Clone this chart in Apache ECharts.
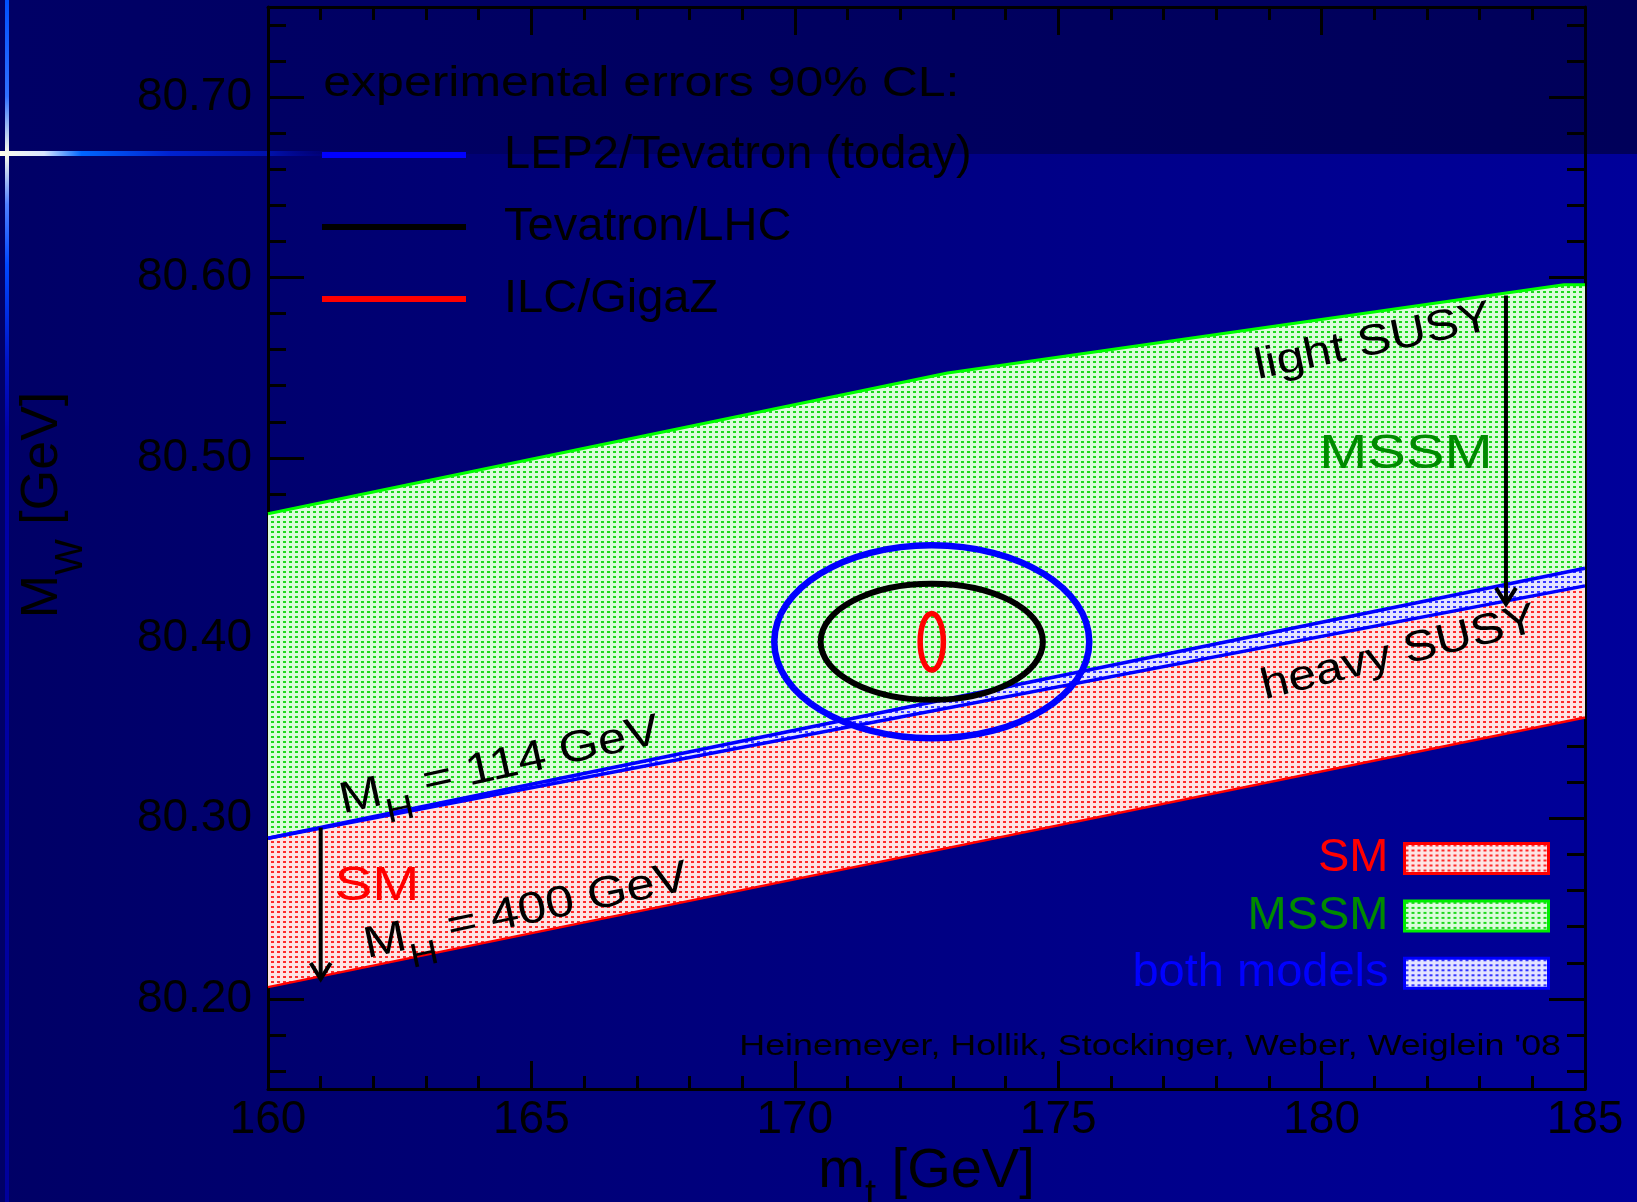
<!DOCTYPE html>
<html>
<head>
<meta charset="utf-8">
<title>M_W versus m_t: SM and MSSM predictions</title>
<script src="https://cdn.jsdelivr.net/npm/echarts@6.0.0/dist/echarts.min.js"></script>
<style>
  html, body { margin: 0; padding: 0; background: #000066; }
  #chart { width: 1637px; height: 1202px; }
</style>
</head>
<body>
<div id="chart"></div>
<script>
// ---------- axes ----------
const mtMin = 160, mtMax = 185, mtStep = 5;          // top-quark mass [GeV]
const mwMin = 80.15, mwMax = 80.75;                  // W-boson mass [GeV]
const mtTickLabels = ['160', '165', '170', '175', '180', '185'];
const mwTickLabels = ['80.20', '80.30', '80.40', '80.50', '80.60', '80.70'];

// ---------- theory bands ----------
// MSSM, upper edge (light SUSY)
const mssmUpperMt = [160, 172.9, 184.6, 185];
const mssmUpperMw = [80.469, 80.547, 80.596, 80.596];
// MSSM, lower edge (heavy SUSY)
const mssmLowerMt = [160, 185];
const mssmLowerMw = [80.289, 80.429];
// SM, upper edge (M_H = 114 GeV)
const smUpperMt = [160, 185];
const smUpperMw = [80.289, 80.4388];
// SM, lower edge (M_H = 400 GeV)
const smLowerMt = [160, 185];
const smLowerMw = [80.2065, 80.356];

// ---------- experimental 90% CL ellipses ----------
const contourNames = ['LEP2/Tevatron (today)', 'Tevatron/LHC', 'ILC/GigaZ'];
const contourMt  = [172.6, 172.6, 172.6];
const contourMw  = [80.398, 80.398, 80.398];
const contourDmt = [2.99, 2.11, 0.22];
const contourDmw = [0.0535, 0.0322, 0.0157];

// ---------- arrows (m_t, M_W from, M_W to) ----------
const arrowMt   = [161.0, 183.5];
const arrowFrom = [80.295, 80.590];
const arrowTo   = [80.211, 80.419];

// ---------- styling ----------
const FONT = '"Liberation Sans", Arial, Helvetica, sans-serif';
const contourColors = ['#0000ff', '#000000', '#ff0000'];
const contourWidths = [6.5, 6, 5.5];

function dotFill(bg, dot) {
  const c = document.createElement('canvas');
  c.width = 6; c.height = 5;
  const g = c.getContext('2d');
  g.fillStyle = bg; g.fillRect(0, 0, 6, 5);
  g.fillStyle = dot; g.fillRect(1, 1, 3, 2);
  return { image: c, repeat: 'repeat' };
}
const fillSM   = dotFill('#fde4e4', '#ff2a2a');
const fillMSSM = dotFill('#dcfcdc', '#1ed81e');
const fillBoth = dotFill('#e4e4ff', '#3535ff');

const zip = (xs, ys) => xs.map((x, i) => [x, ys[i]]);
function bandPolygon(upMt, upMw, loMt, loMw) {
  return zip(upMt, upMw).concat(zip(loMt, loMw).reverse());
}
const mssmPoly = bandPolygon(mssmUpperMt, mssmUpperMw, mssmLowerMt, mssmLowerMw);
const smPoly   = bandPolygon(smUpperMt, smUpperMw, smLowerMt, smLowerMw);
const bothPoly = bandPolygon(smUpperMt, smUpperMw, mssmLowerMt, mssmLowerMw);

function bandSeries(name, poly, fill, z) {
  return {
    type: 'custom', name, z, silent: true,
    itemStyle: { color: fill },
    data: [poly[0]],
    renderItem: (params, api) => ({
      type: 'polygon',
      shape: { points: poly.map(p => api.coord(p)) },
      style: { fill: fill, stroke: 'none' }
    })
  };
}
function edgeSeries(mt, mw, color, width, z) {
  return {
    type: 'line', data: zip(mt, mw), symbol: 'none', silent: true, z,
    lineStyle: { color, width }
  };
}

const subRich = (size, subSize, lh, pad) => ({
  m: { fontFamily: FONT, fontSize: size, lineHeight: lh, verticalAlign: 'middle' },
  s: { fontFamily: FONT, fontSize: subSize, lineHeight: lh, verticalAlign: 'middle', padding: [pad, 0, 0, 0] }
});

// text annotations, anchored in data coordinates
const notes = [
  { text: 'experimental errors 90% CL:', at: [161.05, 80.7068], size: 42, align: 'left', stretch: 1.19 },
  { text: 'light SUSY', at: [180.98, 80.5640], size: 43, angle: 12 },
  { text: 'MSSM', at: [181.6, 80.5020], size: 49, color: '#008a00', stretch: 1.18 },
  { text: 'heavy SUSY', at: [181.47, 80.3915], size: 43, angle: 14 },
  { text: 'SM', at: [162.07, 80.2620], size: 48, color: '#ff0000', stretch: 1.18 },
  { text: '{m|M}{s|H}{m| = 114 GeV}', at: [164.4, 80.329], size: 44, angle: 12.5, rich: subRich(44, 34, 50, 44) },
  { text: '{m|M}{s|H}{m| = 400 GeV}', at: [164.9, 80.2483], size: 44, angle: 12, rich: subRich(44, 34, 50, 44) },
  { text: "Heinemeyer, Hollik, Stockinger, Weber, Weiglein '08", at: [184.545, 80.1735], size: 29, align: 'right', stretch: 1.235 }
];

const tickStyle = { color: '#000', width: 3 };
const axisLineStyle = { show: true, onZero: false, lineStyle: { color: '#000', width: 3 } };

function xAxisDef(pos) {
  return {
    type: 'value', min: mtMin, max: mtMax, interval: mtStep, position: pos,
    axisLine: axisLineStyle, splitLine: { show: false },
    axisTick: { show: true, inside: true, length: 28, lineStyle: tickStyle },
    minorTick: { show: true, splitNumber: 5, length: 13, lineStyle: tickStyle },
    axisLabel: pos === 'bottom' ? {
      show: true, color: '#000', fontFamily: FONT, fontSize: 46, margin: 8,
      formatter: v => { const s = String(Math.round(v)); return mtTickLabels.includes(s) ? s : ''; }
    } : { show: false }
  };
}
function yAxisDef(pos) {
  return {
    type: 'value', min: mwMin, max: mwMax, splitNumber: 6, position: pos,
    axisLine: axisLineStyle, splitLine: { show: false },
    axisTick: { show: true, inside: true, length: 36, lineStyle: tickStyle },
    minorTick: { show: true, splitNumber: 5, length: 18, lineStyle: tickStyle },
    axisLabel: pos === 'left' ? {
      show: true, color: '#000', fontFamily: FONT, fontSize: 46, margin: 16, padding: [6, 0, 0, 0],
      formatter: v => { const s = v.toFixed(2); return mwTickLabels.includes(s) ? s : ''; }
    } : { show: false }
  };
}

const xMain = xAxisDef('bottom');
Object.assign(xMain, {
  name: '{m|m}{s|t}{m| [GeV]}', nameLocation: 'middle', nameGap: 53, nameMoveOverlap: false,
  nameTextStyle: { color: '#000', rich: subRich(56, 40, 60, 48) }
});
const yMain = yAxisDef('left');
Object.assign(yMain, {
  name: '{m|M}{s|W}{m| [GeV]}', nameLocation: 'middle', nameRotate: 90, nameGap: 194, nameMoveOverlap: false,
  nameTextStyle: { color: '#000', padding: [0, 0, 0, 86], rich: subRich(52, 38, 62, 58) }
});

const option = {
  animation: false,
  backgroundColor: {
    type: 'linear', x: 0, y: 0, x2: 1, y2: 0,
    colorStops: [{ offset: 0, color: '#000066' }, { offset: 1, color: '#00009a' }]
  },
  graphic: [
    { type: 'rect', z: -10, silent: true, shape: { x: 0, y: 0, width: 1637, height: 154 },
      style: { fill: { type: 'linear', x: 0, y: 0, x2: 1, y2: 0,
        colorStops: [{ offset: 0, color: '#000066' }, { offset: 1, color: '#00005a' }] } } },
    { type: 'rect', z: -9, silent: true, shape: { x: 5, y: 0, width: 4, height: 1202 },
      style: { fill: { type: 'linear', x: 0, y: 0, x2: 0, y2: 1, colorStops: [
        { offset: 0, color: '#0050ff' }, { offset: 0.08, color: '#3070ff' },
        { offset: 0.128, color: '#ffffe8' }, { offset: 0.17, color: '#5080ff' },
        { offset: 0.22, color: '#0048ff' }, { offset: 0.3, color: '#0014c8' },
        { offset: 0.36, color: '#0000a8' }, { offset: 1, color: '#00009c' }] } } },
    { type: 'rect', z: -9, silent: true, shape: { x: 0, y: 151, width: 340, height: 5 },
      style: { fill: { type: 'linear', x: 0, y: 0, x2: 1, y2: 0, colorStops: [
        { offset: 0, color: '#ffffe8' }, { offset: 0.13, color: '#d8e4ff' },
        { offset: 0.24, color: '#0066ff' }, { offset: 0.5, color: '#0022d0' },
        { offset: 0.8, color: '#0010a8' }, { offset: 1, color: 'rgba(0,0,150,0)' }] } } }
  ],
  grid: { left: 268, right: 52, top: 7, bottom: 113, containLabel: false, outerBoundsMode: 'none' },
  xAxis: [xMain, xAxisDef('top')],
  yAxis: [yMain, yAxisDef('right')],
  legend: [
    {
      data: contourNames.map((n, i) => ({ name: n, icon: 'rect', itemStyle: { color: contourColors[i], borderWidth: 0 } })),
      orient: 'vertical', left: 322, top: 130, padding: 0,
      itemWidth: 144, itemHeight: 6, itemGap: 22, selectedMode: false,
      textStyle: { fontFamily: FONT, fontSize: 47, color: '#000', lineHeight: 50, padding: [0, 0, 0, 33] }
    },
    {
      data: [
        { name: 'SM', icon: 'rect', itemStyle: { color: fillSM, borderColor: '#ff0000', borderWidth: 3 }, textStyle: { color: '#ff0000' } },
        { name: 'MSSM', icon: 'rect', itemStyle: { color: fillMSSM, borderColor: '#00ee00', borderWidth: 3 }, textStyle: { color: '#008a00' } },
        { name: 'both models', icon: 'rect', itemStyle: { color: fillBoth, borderColor: '#0000ff', borderWidth: 3 }, textStyle: { color: '#0000ff' } }
      ],
      orient: 'vertical', align: 'right', right: 87, top: 835, padding: 0,
      itemWidth: 144, itemHeight: 30, itemGap: 10.4, selectedMode: false,
      textStyle: { fontFamily: FONT, fontSize: 47, lineHeight: 30, padding: [0, 11, 0, 0] }
    }
  ],
  series: [
    bandSeries('MSSM', mssmPoly, fillMSSM, 1),
    bandSeries('SM', smPoly, fillSM, 1),
    bandSeries('both models', bothPoly, fillBoth, 1),
    edgeSeries(mssmUpperMt, mssmUpperMw, '#00ff00', 3, 3),
    edgeSeries(smLowerMt, smLowerMw, '#ff0000', 2.5, 3),
    edgeSeries(smUpperMt, smUpperMw, '#0000ff', 3.5, 3),
    edgeSeries(mssmLowerMt, mssmLowerMw, '#0000ff', 3.5, 3),
    ...contourNames.map((name, i) => ({
      type: 'custom', name, z: 5, silent: true,
      itemStyle: { color: contourColors[i] },
      data: [[contourMt[i], contourMw[i], contourDmt[i], contourDmw[i]]],
      renderItem: (params, api) => {
        const c = api.coord([api.value(0), api.value(1)]);
        const s = api.size([api.value(2), api.value(3)]);
        return {
          type: 'ellipse',
          shape: { cx: c[0], cy: c[1], rx: s[0], ry: s[1] },
          style: { fill: 'none', stroke: contourColors[i], lineWidth: contourWidths[i] }
        };
      }
    })),
    {
      type: 'custom', z: 6, silent: true,
      data: arrowMt.map((x, i) => [x, arrowFrom[i], arrowTo[i]]),
      renderItem: (params, api) => {
        const a = api.coord([api.value(0), api.value(1)]);
        const b = api.coord([api.value(0), api.value(2)]);
        return {
          type: 'group', children: [
            { type: 'line', shape: { x1: a[0], y1: a[1], x2: b[0], y2: b[1] }, style: { stroke: '#000', lineWidth: 4 } },
            { type: 'polyline', shape: { points: [[b[0] - 10, b[1] - 16], [b[0], b[1]], [b[0] + 10, b[1] - 16]] },
              style: { stroke: '#000', lineWidth: 4, fill: 'none' } }
          ]
        };
      }
    },
    {
      type: 'custom', z: 7, silent: true,
      data: notes.map(n => n.at),
      renderItem: (params, api) => {
        const n = notes[params.dataIndex];
        const p = api.coord([api.value(0), api.value(1)]);
        return {
          type: 'text', x: p[0], y: p[1],
          rotation: (n.angle || 0) * Math.PI / 180,
          scaleX: n.stretch || 1.16,
          style: {
            text: n.text, fontFamily: FONT, fontSize: n.size, fill: n.color || '#000',
            align: n.align || 'center', verticalAlign: 'middle', rich: n.rich
          }
        };
      }
    }
  ]
};

const chart = echarts.init(document.getElementById('chart'));
chart.setOption(option);
</script>
</body>
</html>
